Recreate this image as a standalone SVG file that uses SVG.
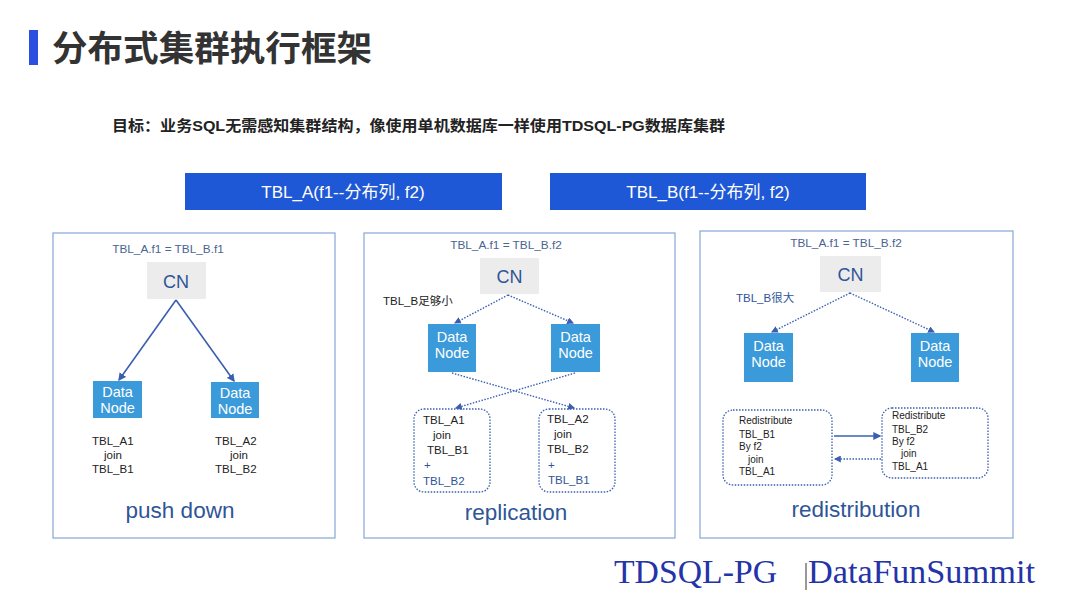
<svg xmlns="http://www.w3.org/2000/svg" width="1080" height="608" viewBox="0 0 1080 608">
<style>
text{font-family:"Liberation Sans","Noto Sans CJK SC",sans-serif}
.panel{fill:#fff;stroke:#8fadd9;stroke-width:1.3}
.cn{fill:#ececec}
.cnt{fill:#2f5597;font-size:18px;text-anchor:middle}
.dn{fill:#3b9ad9}
.dnt{fill:#fff;font-size:14.5px;text-anchor:middle}
.eq{fill:#4a6590;font-size:11.8px;text-anchor:middle}
.t{fill:#222;font-size:11.5px}
.tb{fill:#2f5597;font-size:11.5px}
.s{fill:#222;font-size:10px}
.cap{fill:#2f5597;font-size:22.5px;text-anchor:middle}
.solid{stroke:#3a5fb0;stroke-width:1.6;fill:none}
.dot{stroke:#3a5fb0;stroke-width:1.4;stroke-dasharray:1.5 1.5;fill:none}
.box{fill:none;stroke:#3a5fb0;stroke-width:1.3;stroke-dasharray:1.5 1.5}
.hdr{fill:#1f58d6}
.hdrt{fill:#fff;font-size:17px;text-anchor:middle}
.ft{font-family:"Liberation Serif",serif;font-size:33px;fill:#2433a8}
</style>
<defs>
<marker id="ah" viewBox="0 0 6 6" refX="5" refY="3" markerWidth="5" markerHeight="5" orient="auto"><path d="M0,0 L6,3 L0,6 z" fill="#3a5fb0"/></marker>
</defs>
<rect width="1080" height="608" fill="#fff"/>
<g id="title">
<rect x="29" y="30" width="9" height="35" fill="#2b4fe0"/>
<text x="52" y="61" font-size="35" font-weight="bold" fill="#333" textLength="320" lengthAdjust="spacingAndGlyphs">分布式集群执行框架</text>
</g>
<g id="subtitle">
<text x="112" y="131" font-size="15" font-weight="bold" fill="#222" textLength="613" lengthAdjust="spacingAndGlyphs">目标：业务SQL无需感知集群结构，像使用单机数据库一样使用TDSQL-PG数据库集群</text>
</g>
<g id="hdrA"><rect class="hdr" x="185" y="173" width="317" height="37"/><text class="hdrt" x="343" y="198">TBL_A(f1--分布列, f2)</text></g>
<g id="hdrB"><rect class="hdr" x="550" y="173" width="316" height="37"/><text class="hdrt" x="708" y="198">TBL_B(f1--分布列, f2)</text></g>

<g id="panel1">
<rect class="panel" x="53" y="233" width="282" height="305"/>
<text class="eq" x="168" y="253">TBL_A.f1 = TBL_B.f1</text>
<rect class="cn" x="147" y="262" width="59" height="37"/>
<text class="cnt" x="176" y="288">CN</text>
<rect class="dn" x="93" y="381" width="49" height="37"/>
<text class="dnt" x="117.5" y="397">Data</text><text class="dnt" x="117.5" y="413">Node</text>
<rect class="dn" x="211" y="382" width="48" height="36"/>
<text class="dnt" x="235" y="398">Data</text><text class="dnt" x="235" y="414">Node</text>
<text class="t" x="92" y="445">TBL_A1</text><text class="t" x="104" y="459">join</text><text class="t" x="92" y="473">TBL_B1</text>
<text class="t" x="215" y="445">TBL_A2</text><text class="t" x="230" y="459">join</text><text class="t" x="215" y="473">TBL_B2</text>
<text class="cap" x="180" y="518">push down</text>
</g>

<g id="panel2">
<rect class="panel" x="364" y="233" width="311" height="305"/>
<text class="eq" x="506" y="249">TBL_A.f1 = TBL_B.f2</text>
<rect class="cn" x="480" y="258" width="59" height="36"/>
<text class="cnt" x="509.5" y="283">CN</text>
<text class="t" x="383" y="305" font-size="12.5">TBL_B足够小</text>
<rect class="dn" x="428" y="324" width="48" height="48"/>
<text class="dnt" x="452" y="342">Data</text><text class="dnt" x="452" y="358">Node</text>
<rect class="dn" x="551" y="324" width="49" height="48"/>
<text class="dnt" x="575.5" y="342">Data</text><text class="dnt" x="575.5" y="358">Node</text>
<rect class="box" x="414" y="409" width="76" height="83" rx="10"/>
<rect class="box" x="539" y="409" width="76" height="83" rx="10"/>
<text class="t" x="423" y="424">TBL_A1</text><text class="t" x="433" y="439">join</text><text class="t" x="427" y="454">TBL_B1</text>
<text class="tb" x="424" y="469">+</text><text class="tb" x="423" y="485">TBL_B2</text>
<text class="t" x="547" y="423">TBL_A2</text><text class="t" x="554" y="438">join</text><text class="t" x="547" y="453">TBL_B2</text>
<text class="tb" x="548" y="469">+</text><text class="tb" x="548" y="484">TBL_B1</text>
<text class="cap" x="516" y="520">replication</text>
</g>

<g id="panel3">
<rect class="panel" x="700" y="231" width="313" height="307"/>
<text class="eq" x="846" y="247">TBL_A.f1 = TBL_B.f2</text>
<rect class="cn" x="820" y="256" width="61" height="36"/>
<text class="cnt" x="850.5" y="281">CN</text>
<text class="tb" x="736" y="302" font-size="12.5">TBL_B很大</text>
<rect class="dn" x="744" y="333" width="49" height="49"/>
<text class="dnt" x="768.5" y="351">Data</text><text class="dnt" x="768.5" y="367">Node</text>
<rect class="dn" x="911" y="333" width="48" height="49"/>
<text class="dnt" x="935" y="351">Data</text><text class="dnt" x="935" y="367">Node</text>
<rect class="box" x="723" y="410" width="109" height="75" rx="10"/>
<rect class="box" x="882" y="408" width="106" height="70" rx="10"/>
<text class="s" x="739" y="424">Redistribute</text><text class="s" x="739" y="438">TBL_B1</text><text class="s" x="739" y="450">By f2</text><text class="s" x="748" y="463">join</text><text class="s" x="739" y="475">TBL_A1</text>
<text class="s" x="892" y="419">Redistribute</text><text class="s" x="892" y="433">TBL_B2</text><text class="s" x="892" y="445">By f2</text><text class="s" x="901" y="457">join</text><text class="s" x="892" y="470">TBL_A1</text>
<text class="cap" x="856" y="517">redistribution</text>
</g>

<g id="connectors">
<line class="solid" x1="176" y1="300" x2="119" y2="380" marker-end="url(#ah)"/>
<line class="solid" x1="176" y1="300" x2="234" y2="381" marker-end="url(#ah)"/>
<line class="dot" x1="508" y1="295" x2="455" y2="323" marker-end="url(#ah)"/>
<line class="dot" x1="508" y1="295" x2="573" y2="323" marker-end="url(#ah)"/>
<line class="dot" x1="452" y1="373" x2="574" y2="408" marker-end="url(#ah)"/>
<line class="dot" x1="575" y1="373" x2="456" y2="408" marker-end="url(#ah)"/>
<line class="dot" x1="850" y1="293" x2="772" y2="332" marker-end="url(#ah)"/>
<line class="dot" x1="850" y1="293" x2="934" y2="332" marker-end="url(#ah)"/>
<line class="solid" stroke-width="1.2" x1="834" y1="436" x2="880" y2="436" marker-end="url(#ah)"/>
<line class="dot" x1="881" y1="459" x2="835" y2="459" marker-end="url(#ah)"/>
</g>

<g id="footer">
<text class="ft" x="614" y="583" textLength="163" lengthAdjust="spacingAndGlyphs">TDSQL-PG</text>
<line x1="806" y1="563" x2="806" y2="590" stroke="#555" stroke-width="1.2"/>
<text class="ft" x="808" y="583" textLength="227" lengthAdjust="spacingAndGlyphs">DataFunSummit</text>
</g>
</svg>
